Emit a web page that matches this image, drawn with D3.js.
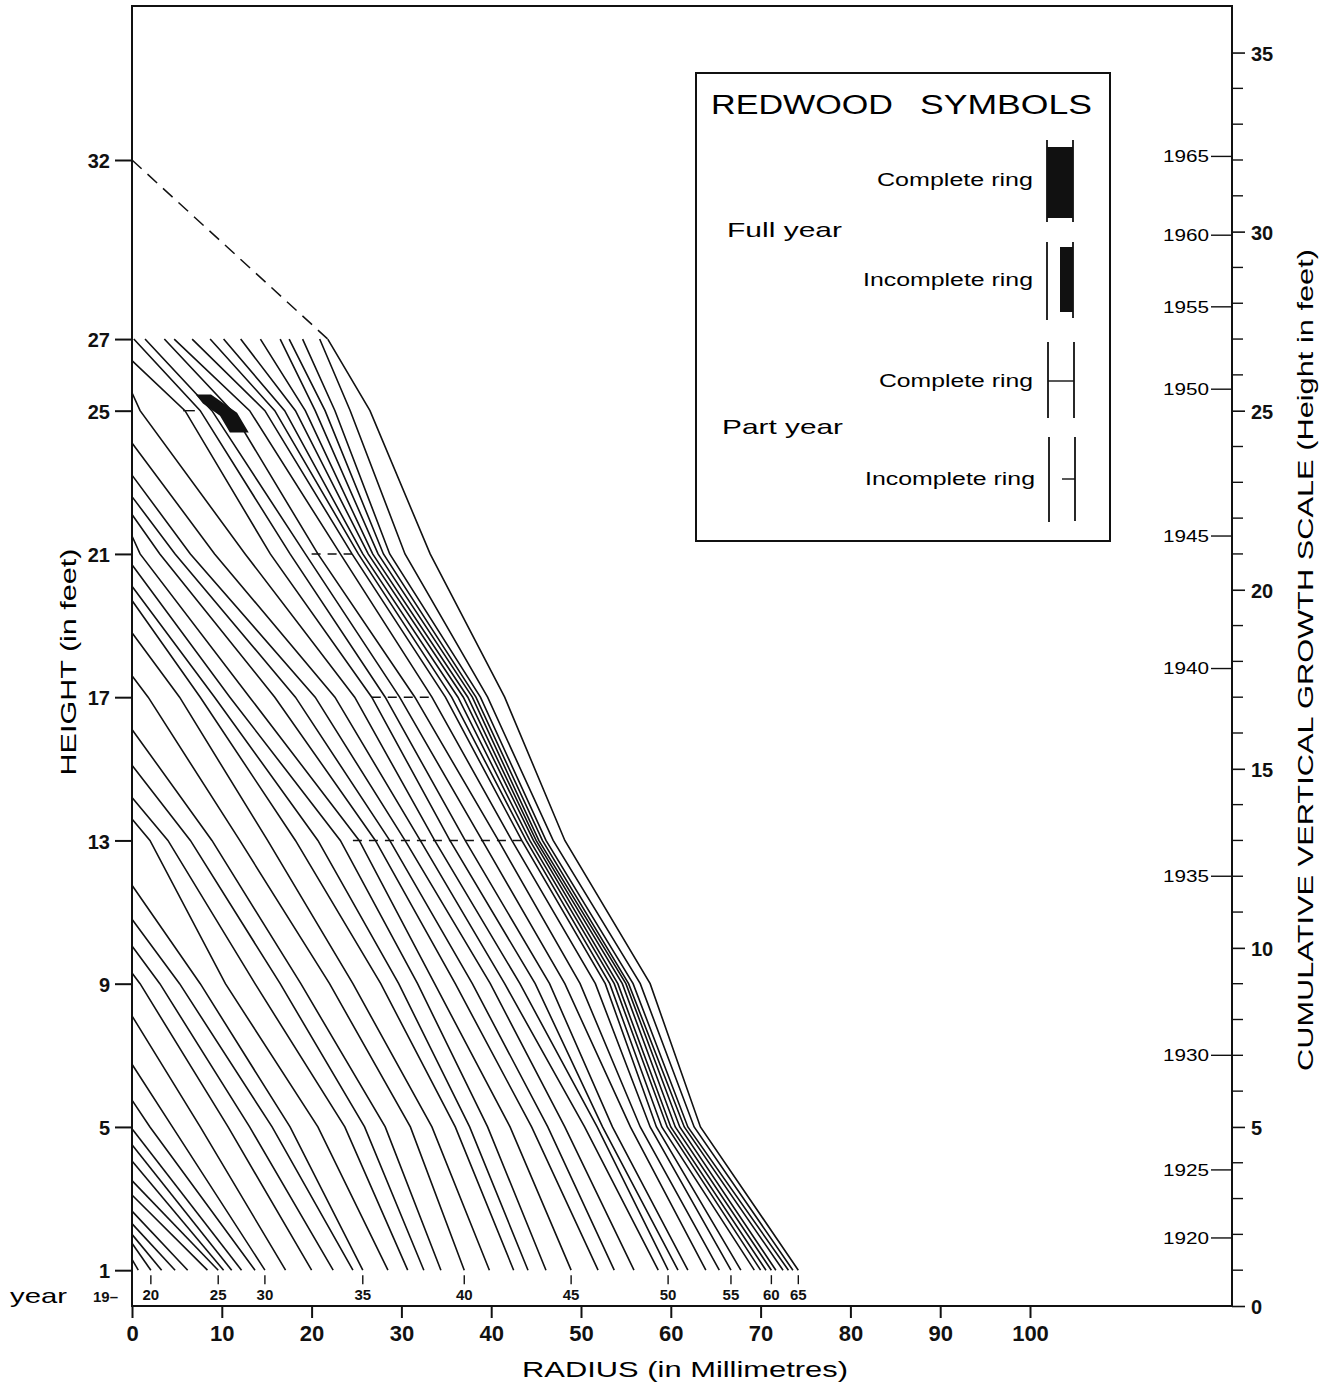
<!DOCTYPE html>
<html>
<head>
<meta charset="utf-8">
<script src="https://cdn.jsdelivr.net/npm/d3@7"></script>
<style>
  body { margin: 0; background: #fff; }
  svg { display: block; font-family: 'Liberation Sans', Arial, sans-serif; }
  .ring { fill: none; stroke: #111; stroke-width: 1.6; }
  .tickLabel { font-weight: bold; fill: #111; }
</style>
</head>
<body>
<div class="container"></div>
<script>
// ring years, oldest first
var years = [1919, 1920, 1921, 1922, 1923, 1924, 1925, 1926, 1927, 1928,
  1929, 1930, 1931, 1932, 1933, 1934, 1935, 1936, 1937, 1938,
  1939, 1940, 1941, 1942, 1943, 1944, 1945, 1946, 1947, 1948,
  1949, 1950, 1951, 1952, 1953, 1954, 1955, 1956, 1957, 1958,
  1959, 1960, 1961, 1962, 1963, 1964, 1965]

// height (ft) where each ring reaches the pith, null = cut at 27 ft
var ringTop = [1.3, 1.75, 2.0, 2.3, 2.65, 3.1, 3.5, 4.05, 4.5, 4.95,
  5.75, 6.75, 8.1, 9.3, 10.05, 10.8, 11.75, 13.6, 14.2, 15.1,
  16.1, 17.6, 18.8, 19.7, 20.1, 20.7, 21.5, 22.1, 22.6, 23.2,
  24.1, 25.5, 26.4, null, null, null, null, null, null, null,
  null, null, null, null, null, null, null]

// measurement heights (ft)
var levels = [1, 5, 9, 13, 17, 21, 25, 27]

// radius (mm) of each ring at each measurement height, null = above ring top
var r1 = [0.7, 2.1, 3.3, 4.8, 6.2, 8.4, 9.6, 10.2, 11.1, 12.2,
  13.7, 14.8, 17.1, 20.0, 22.4, 24.6, 25.7, 28.5, 30.7, 32.5,
  34.4, 37.0, 39.8, 42.5, 44.1, 46.1, 48.9, 51.9, 53.7, 55.9,
  58.6, 59.7, 60.8, 61.9, 63.9, 65.4, 66.7, 67.8, 69.3, 70.0,
  70.6, 71.2, 71.7, 72.5, 73.1, 73.6, 74.2]
var r5 = [null, null, null, null, null, null, null, null, null, null,
  2.0, 4.5, 7.6, 10.7, 13.1, 15.6, 17.6, 20.7, 23.7, 25.9,
  28.2, 31.0, 33.4, 36.0, 37.6, 39.6, 42.1, 44.5, 46.3, 48.2,
  50.4, 51.8, 52.4, 53.5, 55.5, 56.6, 57.7, 58.4, 59.0, 59.6,
  60.0, 60.5, 61.0, 61.5, 61.9, 62.6, 63.3]
var r9 = [null, null, null, null, null, null, null, null, null, null,
  null, null, null, 0.9, 3.1, 5.3, 7.6, 10.4, 13.7, 16.5,
  18.8, 22.0, 24.6, 27.7, 29.7, 31.8, 33.7, 36.0, 37.9, 39.9,
  41.5, 43.2, 44.9, 46.5, 48.2, 49.9, 51.6, 52.7, 53.2, 53.7,
  54.1, 54.6, 55.0, 55.3, 55.8, 56.6, 57.7]
var r13 = [null, null, null, null, null, null, null, null, null, null,
  null, null, null, null, null, null, null, 2.0, 4.0, 6.5,
  8.9, 12.0, 15.1, 18.2, 20.7, 23.2, 25.3, 27.1, 28.7, 30.4,
  32.1, 33.7, 35.4, 37.1, 39.0, 40.8, 42.3, 43.4, 43.9, 44.3,
  44.7, 45.0, 45.3, 45.7, 46.1, 46.9, 48.2]
var r17 = [null, null, null, null, null, null, null, null, null, null,
  null, null, null, null, null, null, null, null, null, null,
  null, 1.8, 5.3, 7.6, 9.2, 10.9, 13.1, 15.9, 18.2, 20.4,
  22.6, 24.8, 26.7, 28.2, 29.8, 31.5, 33.4, 34.9, 35.6, 36.3,
  36.9, 37.4, 37.9, 38.3, 38.8, 39.6, 41.5]
var r21 = [null, null, null, null, null, null, null, null, null, null,
  null, null, null, null, null, null, null, null, null, null,
  null, null, null, null, null, null, 0.9, 3.1, 4.8, 6.5,
  9.2, 12.6, 15.4, 17.6, 19.3, 20.7, 23.2, 24.5, 25.2, 25.7,
  26.3, 26.8, 27.4, 28.0, 28.7, 30.4, 33.2]
var r25 = [null, null, null, null, null, null, null, null, null, null,
  null, null, null, null, null, null, null, null, null, null,
  null, null, null, null, null, null, null, null, null, null,
  null, 0.9, 5.9, 7.6, 8.9, 11.1, 13.1, 14.8, 15.9, 17.0,
  18.2, 19.3, 20.4, 21.5, 22.6, 24.3, 26.5]
var r27 = [null, null, null, null, null, null, null, null, null, null,
  null, null, null, null, null, null, null, null, null, null,
  null, null, null, null, null, null, null, null, null, null,
  null, null, null, 0.2, 1.45, 3.6, 4.7, 6.7, 8.7, 10.2,
  12.1, 14.3, 16.5, 17.5, 19.0, 20.9, 21.8]

// axis ticks
var leftTicks = [1, 5, 9, 13, 17, 21, 25, 27, 32]
var bottomTicks = [0, 10, 20, 30, 40, 50, 60, 70, 80, 90, 100]
var rightTicks = [0, 5, 10, 15, 20, 25, 30, 35]
var rightMinor = [1, 2, 3, 4, 6, 7, 8, 9, 11, 12, 13, 14, 16, 17, 18, 19,
  21, 22, 23, 24, 26, 27, 28, 29, 31, 32, 33, 34]
var yearScaleLabels = ['1920', '1925', '1930', '1935', '1940', '1945', '1950', '1955', '1960', '1965']
var yearScaleHeights = [1.9, 3.8, 7.0, 12.0, 17.8, 21.5, 25.6, 27.9, 29.9, 32.1]
var ringLabelYears = [1920, 1925, 1930, 1935, 1940, 1945, 1950, 1955, 1960, 1965]

// tree top estimate (dashed), and annotations
var treeTopHeight = 32
var blackRing = [[7.1, 25.45], [8.8, 25.45], [11.7, 24.94], [13.0, 24.39], [10.9, 24.39], [9.8, 24.86], [7.9, 25.2]]
var partDashes = [
  { h: 21, from: 20.0, to: 24.5 },
  { h: 17, from: 26.7, to: 33.4 },
  { h: 13, from: 24.6, to: 43.5 }
]
var shortMark = { h: 25, from: 5.7, to: 7.0 }

var radii = [r1, r5, r9, r13, r17, r21, r25, r27]

var W = 1333
var H = 1387

var svg = d3.select('.container')
  .append('svg')
  .attr('width', W)
  .attr('height', H)

var xScale = d3.scaleLinear().domain([0, 100]).range([132, 1030])
var yScale = d3.scaleLinear().domain([0, 36.3]).range([1306, 6])
var rightX = 1232

// frame
svg.append('path')
  .attr('d', 'M' + xScale(0) + ',' + yScale(0) + 'V' + yScale(36.3) + 'H' + rightX + 'V' + yScale(0) + 'Z')
  .attr('fill', 'none')
  .attr('stroke', '#111')
  .attr('stroke-width', 2)

// left axis
var leftAxis = d3.axisLeft(yScale).tickValues(leftTicks).tickSize(17).tickPadding(5)
svg.append('g')
  .attr('transform', 'translate(' + xScale(0) + ',0)')
  .call(leftAxis)
  .call(function (g) {
    g.select('.domain').remove()
    g.selectAll('.tick line').attr('stroke', '#111').attr('stroke-width', 2)
    g.selectAll('.tick text').attr('class', 'tickLabel').style('font-size', '20px')
      .attr('dy', '0.38em')
  })

// bottom axis
var bottomAxis = d3.axisBottom(xScale).tickValues(bottomTicks).tickSize(12).tickPadding(7)
svg.append('g')
  .attr('transform', 'translate(0,' + yScale(0) + ')')
  .call(bottomAxis)
  .call(function (g) {
    g.select('.domain').remove()
    g.selectAll('.tick line').attr('stroke', '#111').attr('stroke-width', 2)
    g.selectAll('.tick text').attr('class', 'tickLabel').style('font-size', '22px')
  })

// right axis: feet on the outside
var rightAxis = d3.axisRight(yScale).tickValues(rightTicks).tickSize(13).tickPadding(6)
svg.append('g')
  .attr('transform', 'translate(' + rightX + ',0)')
  .call(rightAxis)
  .call(function (g) {
    g.select('.domain').remove()
    g.selectAll('.tick line').attr('stroke', '#111').attr('stroke-width', 1.6)
    g.selectAll('.tick text').attr('class', 'tickLabel').style('font-size', '20px')
      .attr('dy', '0.38em')
  })

svg.append('g')
  .selectAll('line')
  .data(rightMinor)
  .enter()
  .append('line')
  .attr('x1', rightX)
  .attr('x2', rightX + 11)
  .attr('y1', function (d) { return yScale(d) })
  .attr('y2', function (d) { return yScale(d) })
  .attr('stroke', '#111')
  .attr('stroke-width', 1.4)

// right axis: years on the inside
var yearGroup = svg.append('g')
yearGroup.selectAll('line')
  .data(yearScaleHeights)
  .enter()
  .append('line')
  .attr('x1', rightX - 21)
  .attr('x2', rightX)
  .attr('y1', function (d) { return yScale(d) })
  .attr('y2', function (d) { return yScale(d) })
  .attr('stroke', '#111')
  .attr('stroke-width', 1.4)

yearGroup.selectAll('text')
  .data(yearScaleLabels)
  .enter()
  .append('text')
  .attr('x', rightX - 23)
  .attr('y', function (d, i) { return yScale(yearScaleHeights[i]) })
  .attr('dy', '0.36em')
  .attr('text-anchor', 'end')
  .attr('textLength', 46)
  .attr('lengthAdjust', 'spacingAndGlyphs')
  .style('font-size', '16px')
  .text(function (d) { return d })

// axis titles
svg.append('text')
  .attr('transform', 'translate(76,' + 662 + ') rotate(-90)')
  .attr('text-anchor', 'middle')
  .attr('textLength', 227)
  .attr('lengthAdjust', 'spacingAndGlyphs')
  .style('font-size', '22px')
  .text('HEIGHT (in feet)')

svg.append('text')
  .attr('transform', 'translate(1313,' + 660 + ') rotate(-90)')
  .attr('text-anchor', 'middle')
  .attr('textLength', 822)
  .attr('lengthAdjust', 'spacingAndGlyphs')
  .style('font-size', '22px')
  .text('CUMULATIVE VERTICAL GROWTH SCALE (Height in feet)')

svg.append('text')
  .attr('x', 685)
  .attr('y', 1377)
  .attr('text-anchor', 'middle')
  .attr('textLength', 326)
  .attr('lengthAdjust', 'spacingAndGlyphs')
  .style('font-size', '22px')
  .text('RADIUS (in Millimetres)')

svg.append('text')
  .attr('x', 10)
  .attr('y', 1303)
  .attr('textLength', 57)
  .attr('lengthAdjust', 'spacingAndGlyphs')
  .style('font-size', '21px')
  .text('year')

svg.append('text')
  .attr('x', 118)
  .attr('y', 1302)
  .attr('text-anchor', 'end')
  .attr('class', 'tickLabel')
  .style('font-size', '15px')
  .text('19\u2013')

// ring lines
var valueline = d3.line()
  .x(function (d) { return xScale(d.r) })
  .y(function (d) { return yScale(d.h) })

var rings = years.map(function (year, i) {
  var pts = []
  levels.forEach(function (h, j) {
    if (radii[j][i] !== null) {
      pts.push({ r: radii[j][i], h: h })
    }
  })
  if (ringTop[i] !== null) {
    pts.push({ r: 0, h: ringTop[i] })
  }
  return { year: year, values: pts }
})

svg.append('g')
  .selectAll('.ring')
  .data(rings)
  .enter()
  .append('path')
  .attr('class', 'ring')
  .attr('d', function (d) { return valueline(d.values) })

// tree top estimate
var lastIdx = years.length - 1
svg.append('path')
  .attr('d', valueline([{ r: 0, h: treeTopHeight }, { r: r27[lastIdx], h: 27 }]))
  .attr('fill', 'none')
  .attr('stroke', '#111')
  .attr('stroke-width', 1.5)
  .attr('stroke-dasharray', '13,8')

// full-year incomplete ring
svg.append('path')
  .attr('d', valueline(blackRing.map(function (p) { return { r: p[0], h: p[1] } })) + 'Z')
  .attr('fill', '#111')

svg.append('path')
  .attr('d', valueline([{ r: shortMark.from, h: shortMark.h }, { r: shortMark.to, h: shortMark.h }]))
  .attr('stroke', '#111')
  .attr('stroke-width', 1.4)

svg.append('g')
  .selectAll('path')
  .data(partDashes)
  .enter()
  .append('path')
  .attr('d', function (d) { return valueline([{ r: d.from, h: d.h }, { r: d.to, h: d.h }]) })
  .attr('stroke', '#111')
  .attr('stroke-width', 1.4)
  .attr('stroke-dasharray', '9,7')

// ring year labels along the 1 ft section
var labelRows = ringLabelYears.map(function (y) {
  var i = years.indexOf(y)
  return { label: String(y).slice(2), r: r1[i] }
})
var ringLabels = svg.append('g')
ringLabels.selectAll('line')
  .data(labelRows)
  .enter()
  .append('line')
  .attr('x1', function (d) { return xScale(d.r) })
  .attr('x2', function (d) { return xScale(d.r) })
  .attr('y1', yScale(1) + 5)
  .attr('y2', yScale(1) + 14)
  .attr('stroke', '#111')
  .attr('stroke-width', 1.4)
ringLabels.selectAll('text')
  .data(labelRows)
  .enter()
  .append('text')
  .attr('class', 'tickLabel')
  .attr('x', function (d) { return xScale(d.r) })
  .attr('y', yScale(1) + 30)
  .attr('text-anchor', 'middle')
  .style('font-size', '15px')
  .text(function (d) { return d.label })

// legend
var legend = svg.append('g').attr('class', 'legend')
legend.append('rect')
  .attr('x', 696)
  .attr('y', 73)
  .attr('width', 414)
  .attr('height', 468)
  .attr('fill', '#fff')
  .attr('stroke', '#111')
  .attr('stroke-width', 2)

legend.append('text')
  .attr('x', 711)
  .attr('y', 114)
  .attr('textLength', 182)
  .attr('lengthAdjust', 'spacingAndGlyphs')
  .style('font-size', '27px')
  .text('REDWOOD')
legend.append('text')
  .attr('x', 920)
  .attr('y', 114)
  .attr('textLength', 172)
  .attr('lengthAdjust', 'spacingAndGlyphs')
  .style('font-size', '27px')
  .text('SYMBOLS')

var legendRows = [
  { text: 'Complete ring', y: 186, x: 1033, len: 156 },
  { text: 'Incomplete ring', y: 286, x: 1033, len: 170 },
  { text: 'Complete ring', y: 387, x: 1033, len: 154 },
  { text: 'Incomplete ring', y: 485, x: 1035, len: 170 }
]
legend.selectAll('.lrow')
  .data(legendRows)
  .enter()
  .append('text')
  .attr('class', 'lrow')
  .attr('x', function (d) { return d.x - d.len })
  .attr('y', function (d) { return d.y })
  .attr('textLength', function (d) { return d.len })
  .attr('lengthAdjust', 'spacingAndGlyphs')
  .style('font-size', '18px')
  .text(function (d) { return d.text })

legend.append('text').attr('x', 727).attr('y', 237)
  .attr('textLength', 115).attr('lengthAdjust', 'spacingAndGlyphs')
  .style('font-size', '21px').text('Full year')
legend.append('text').attr('x', 722).attr('y', 434)
  .attr('textLength', 121).attr('lengthAdjust', 'spacingAndGlyphs')
  .style('font-size', '21px').text('Part year')

function vline (x, y1, y2) {
  legend.append('line').attr('x1', x).attr('x2', x).attr('y1', y1).attr('y2', y2)
    .attr('stroke', '#111').attr('stroke-width', 1.8)
}
vline(1047, 140, 222)
vline(1073, 140, 222)
legend.append('rect').attr('x', 1047).attr('y', 147).attr('width', 26).attr('height', 71).attr('fill', '#111')
vline(1047, 242, 320)
vline(1073, 242, 318)
legend.append('rect').attr('x', 1060).attr('y', 247).attr('width', 13).attr('height', 65).attr('fill', '#111')
vline(1048, 342, 418)
vline(1074, 342, 418)
legend.append('line').attr('x1', 1048).attr('x2', 1074).attr('y1', 381).attr('y2', 381)
  .attr('stroke', '#111').attr('stroke-width', 1.4)
vline(1049, 437, 522)
vline(1075, 437, 521)
legend.append('line').attr('x1', 1062).attr('x2', 1075).attr('y1', 479).attr('y2', 479)
  .attr('stroke', '#111').attr('stroke-width', 1.4)
</script>
</body>
</html>
